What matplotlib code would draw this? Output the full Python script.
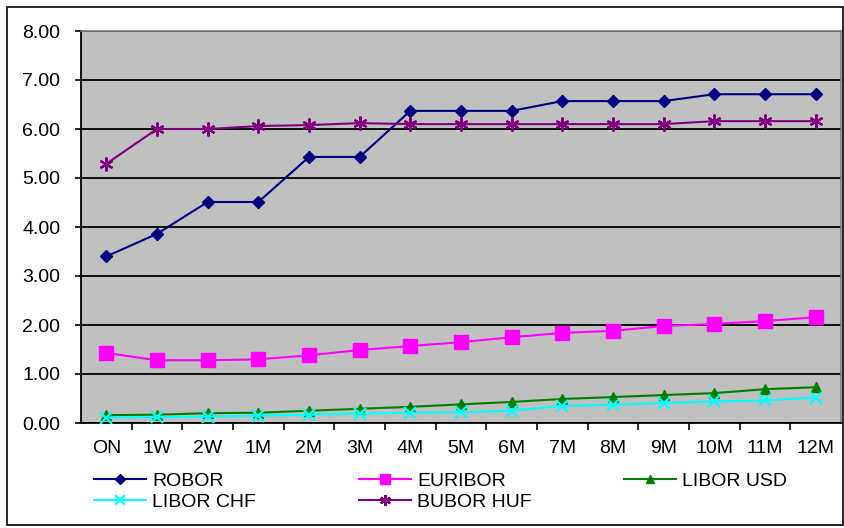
import numpy as np
import matplotlib
matplotlib.use("Agg")
import matplotlib.pyplot as plt
from matplotlib.patches import Rectangle

plt.rcParams["font.family"] = ["Liberation Sans", "DejaVu Sans"]
plt.rcParams["font.size"] = 14

# ── Data ──────────────────────────────────────────────────────
tenors = ["ON", "1W", "2W", "1M", "2M", "3M", "4M", "5M", "6M",
          "7M", "8M", "9M", "10M", "11M", "12M"]
robor = [3.40, 3.86, 4.51, 4.51, 5.43, 5.43, 6.37, 6.37, 6.37,
         6.57, 6.57, 6.57, 6.71, 6.71, 6.71]
euribor = [1.43, 1.28, 1.28, 1.30, 1.38, 1.49, 1.57, 1.65, 1.75,
           1.84, 1.88, 1.98, 2.02, 2.08, 2.16]
libor_usd = [0.16, 0.17, 0.20, 0.21, 0.25, 0.29, 0.33, 0.38, 0.43,
             0.49, 0.53, 0.57, 0.61, 0.69, 0.73]
libor_chf = [0.11, 0.12, 0.13, 0.15, 0.17, 0.19, 0.21, 0.22, 0.25,
             0.35, 0.37, 0.41, 0.44, 0.46, 0.52]
bubor_huf = [5.29, 6.00, 6.00, 6.06, 6.08, 6.12, 6.10, 6.10, 6.10,
             6.10, 6.10, 6.10, 6.16, 6.16, 6.16]

series = [
    ("ROBOR",     robor,     "#000080", "D",       6.5),
    ("EURIBOR",   euribor,   "#FF00FF", "s",       9.5),
    ("LIBOR USD", libor_usd, "#008000", "^",       7),
    ("LIBOR CHF", libor_chf, "#00FFFF", "x",       9),
    ("BUBOR HUF", bubor_huf, "#800080", (6, 2, 0), 10),
]

# ── Figure ────────────────────────────────────────────────────
fig = plt.figure(figsize=(8.45, 5.28), dpi=100)
ax = fig.add_axes([81 / 845, 1 - 423 / 528, 760 / 845, 392 / 528])
ax.set_facecolor("#C0C0C0")

x = np.arange(len(tenors))
handles = []
for name, vals, color, marker, ms in series:
    mew = 1.6 if marker in ("x", (6, 2, 0)) else 1
    ln, = ax.plot(x, vals, color=color, lw=1.5, marker=marker, ms=ms,
                  mew=mew, mec=color, mfc=color, label=name, zorder=3)
    handles.append(ln)

ax.set_xlim(-0.5, len(tenors) - 0.5)
ax.set_ylim(0, 8)
ax.set_yticks(np.arange(0, 8.01, 1))
ax.set_yticklabels([f"{v:.2f}" for v in np.arange(0, 8.01, 1)])
ax.yaxis.grid(True, color="black", lw=1.3)
ax.set_axisbelow(True)

ax.set_xticks(x)
ax.set_xticklabels(tenors)
ax.set_xticks(np.arange(0.5, len(tenors) - 0.5, 1), minor=True)
ax.tick_params(axis="x", which="major", length=0, pad=12)
ax.tick_params(axis="x", which="minor", length=5, width=1.2, direction="out")
ax.tick_params(axis="y", length=4, width=1.2, pad=11)

for side in ("top", "right"):
    ax.spines[side].set_color("#808080")
    ax.spines[side].set_linewidth(1.2)
for side in ("left", "bottom"):
    ax.spines[side].set_color("black")
    ax.spines[side].set_linewidth(1.3)

# legend laid out row-wise in three fixed columns, like the original
cols = [[0, 3], [1, 4], [2]]
col_x = [94, 359, 624]
for idxs, cx in zip(cols, col_x):
    fig.legend([handles[i] for i in idxs],
               [series[i][0] for i in idxs],
               loc="upper left", bbox_to_anchor=(cx / 845, 1 - 472 / 528),
               frameon=False, handlelength=2.65, handletextpad=0.35,
               labelspacing=0.2, markerscale=0.8,
               borderaxespad=0, borderpad=0)

fig.patches.append(Rectangle((7 / 845, 3 / 528), 836 / 845, 518 / 528,
                             transform=fig.transFigure, fill=False,
                             edgecolor="black", lw=1.2))

plt.savefig("out.png", dpi=100, facecolor="white")
plt.close()
